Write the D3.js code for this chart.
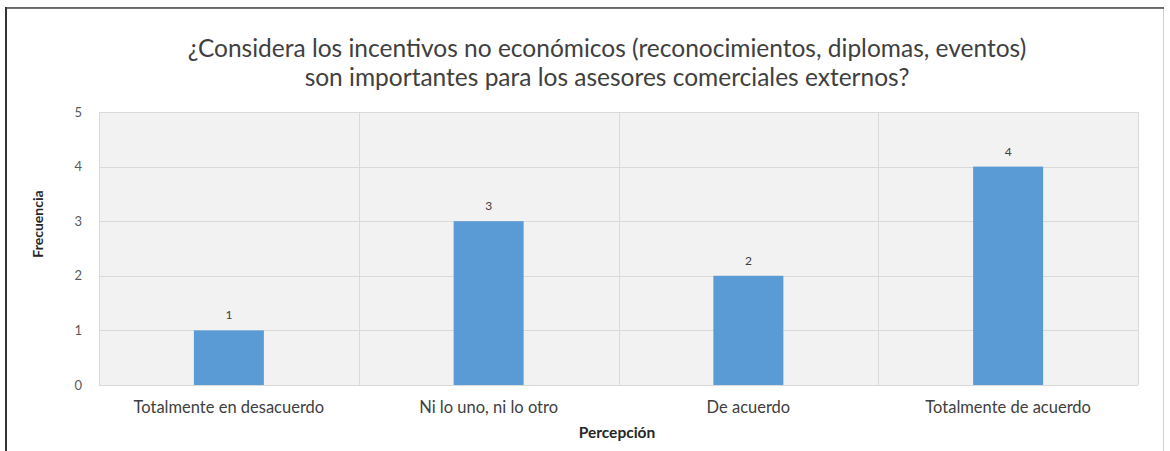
<!DOCTYPE html>
<html>
<head>
<meta charset="utf-8">
<script src="https://cdn.jsdelivr.net/npm/d3@7/dist/d3.min.js"></script>
<style>
  html, body { margin: 0; padding: 0; background: #fff; }
  svg { display: block; }
  text { font-family: Lato, "Open Sans", sans-serif; }
</style>
</head>
<body>
<svg id="chart" width="1170" height="451"></svg>
<script>
// Survey answers and their frequencies
const categories = [
  "Totalmente en desacuerdo",
  "Ni lo uno, ni lo otro",
  "De acuerdo",
  "Totalmente de acuerdo"
];
const frequencies = [1, 3, 2, 4];
const yTicks = [0, 1, 2, 3, 4, 5];
const titleLines = [
  "¿Considera los incentivos no económicos (reconocimientos, diplomas, eventos)",
  "son importantes para los asesores comerciales externos?"
];
const yTitle = "Frecuencia";
const xTitle = "Percepción";

const svg = d3.select("#chart");
const W = 1170, H = 451;
const plot = { left: 99, right: 1138, top: 112, bottom: 385 };

// Outer frame
svg.append("rect")
  .attr("x", 6.5).attr("y", 7.5)
  .attr("width", 1157).attr("height", 450)
  .attr("fill", "#fff")
  .attr("stroke", "#d0d0d0").attr("stroke-width", 1);
svg.append("line")
  .attr("x1", 6).attr("x2", 6).attr("y1", 7).attr("y2", H)
  .attr("stroke", "#333").attr("stroke-width", 2);
svg.append("line")
  .attr("x1", 6).attr("x2", 1164).attr("y1", 8).attr("y2", 8)
  .attr("stroke", "#444").attr("stroke-width", 1.5);

const x = d3.scaleBand()
  .domain(categories)
  .range([plot.left, plot.right])
  .paddingInner(0).paddingOuter(0);

const y = d3.scaleLinear()
  .domain([0, 5])
  .range([plot.bottom, plot.top]);

// Plot background
svg.append("rect")
  .attr("x", plot.left).attr("y", plot.top)
  .attr("width", plot.right - plot.left)
  .attr("height", plot.bottom - plot.top)
  .attr("fill", "#f2f2f2");

// Horizontal gridlines
svg.append("g")
  .selectAll("line")
  .data(yTicks)
  .join("line")
  .attr("x1", plot.left).attr("x2", plot.right)
  .attr("y1", d => Math.round(y(d)) + 0.5)
  .attr("y2", d => Math.round(y(d)) + 0.5)
  .attr("stroke", "#d9d9d9").attr("stroke-width", 1);

// Vertical category separators
const sepX = categories.map(c => x(c)).concat([x.range()[1]]);
svg.append("g")
  .selectAll("line")
  .data(sepX)
  .join("line")
  .attr("x1", d => Math.round(d) + 0.5).attr("x2", d => Math.round(d) + 0.5)
  .attr("y1", plot.top).attr("y2", plot.bottom)
  .attr("stroke", "#d9d9d9").attr("stroke-width", 1);

// Y axis tick labels
const yAxis = d3.axisLeft(y).tickValues(yTicks).tickFormat(d3.format("d"))
  .tickSize(0).tickPadding(17);
const yG = svg.append("g")
  .attr("transform", `translate(${plot.left},0)`)
  .call(yAxis);
yG.select(".domain").remove();
yG.selectAll("text")
  .attr("fill", "#595959")
  .style("font-size", "13px")
  .style("font-family", "Lato, sans-serif");

// X axis category labels
const xAxis = d3.axisBottom(x).tickSize(0).tickPadding(16);
const xG = svg.append("g")
  .attr("transform", `translate(0,${plot.bottom})`)
  .call(xAxis);
xG.select(".domain").remove();
xG.selectAll("text")
  .attr("fill", "#404040")
  .style("font-size", "16.5px")
  .style("font-family", "Lato, sans-serif");

// Bars
const barW = 70;
svg.append("g")
  .selectAll("rect")
  .data(frequencies)
  .join("rect")
  .attr("x", (d, i) => x(categories[i]) + x.bandwidth() / 2 - barW / 2)
  .attr("y", d => y(d))
  .attr("width", barW)
  .attr("height", d => y(0) - y(d))
  .attr("fill", "#5b9bd5");

// Value labels
svg.append("g")
  .selectAll("text")
  .data(frequencies)
  .join("text")
  .attr("x", (d, i) => x(categories[i]) + x.bandwidth() / 2)
  .attr("y", d => y(d) - 11)
  .attr("text-anchor", "middle")
  .attr("fill", "#404040")
  .style("font-size", "12px")
  .text(d => d);

// Title
svg.append("g")
  .selectAll("text")
  .data(titleLines)
  .join("text")
  .attr("x", 607)
  .attr("y", (d, i) => 57 + i * 29)
  .attr("text-anchor", "middle")
  .attr("fill", "#404040")
  .style("font-size", "24.5px")
  .text(d => d);

// Axis titles
svg.append("text")
  .attr("transform", "translate(43,224) rotate(-90)")
  .attr("text-anchor", "middle")
  .attr("fill", "#262626")
  .style("font-size", "14px")
  .style("font-weight", "bold")
  .text(yTitle);

svg.append("text")
  .attr("x", 617).attr("y", 438)
  .attr("text-anchor", "middle")
  .attr("fill", "#262626")
  .style("font-size", "15.5px")
  .style("font-weight", "bold")
  .text(xTitle);
</script>
</body>
</html>
